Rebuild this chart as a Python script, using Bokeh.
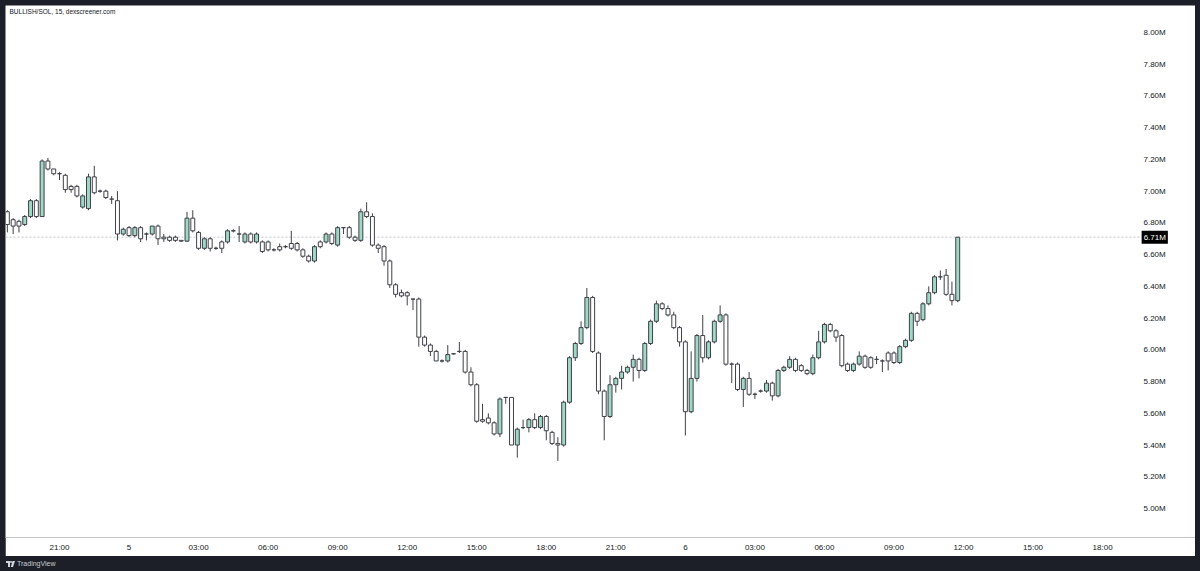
from bokeh.plotting import figure
from bokeh.models import (ColumnDataSource, Range1d, FixedTicker, Label, Div)
from bokeh.layouts import column
from bokeh.embed import file_html
from bokeh.resources import INLINE
from bokeh.core.properties import value

# ---------------- data (15-minute candles, BULLISH/SOL, values in millions) ----------------
first_slot = 75          # 15-min slot index counted from day 4 00:00 (75 -> 18:45)
opens = [6.87, 6.82, 6.81, 6.79, 6.84, 6.94, 6.84, 7.19, 7.14, 7.11, 7.10, 7.03, 7.03, 6.90, 6.89, 7.09,
         7.00, 7.00, 6.95, 6.94, 6.73, 6.77, 6.72, 6.77, 6.73, 6.73, 6.78, 6.71, 6.71, 6.71, 6.69, 6.685,
         6.83, 6.74, 6.64, 6.70, 6.64, 6.68, 6.68, 6.75, 6.73, 6.68, 6.73, 6.68, 6.68, 6.68, 6.63, 6.65,
         6.65, 6.67, 6.67, 6.63, 6.59, 6.56, 6.68, 6.68, 6.73, 6.66, 6.77, 6.77, 6.71, 6.69, 6.87, 6.84,
         6.66, 6.65, 6.56, 6.41, 6.36, 6.36, 6.32, 6.32, 6.08, 6.03, 5.99, 5.93, 5.93, 5.975, 5.99, 5.99,
         5.86, 5.78, 5.56, 5.57, 5.54, 5.47, 5.70, 5.70, 5.40, 5.51, 5.51, 5.56, 5.51, 5.58, 5.48, 5.41,
         5.40, 5.67, 5.95, 6.04, 6.14, 6.33, 5.98, 5.74, 5.58, 5.78, 5.82, 5.86, 5.89, 5.94, 5.87, 6.04,
         6.18, 6.29, 6.26, 6.22, 6.14, 6.05, 5.61, 5.82, 6.09, 5.95, 6.05, 6.18, 6.22, 5.91, 5.91, 5.75,
         5.82, 5.72, 5.74, 5.74, 5.79, 5.71, 5.87, 5.89, 5.94, 5.90, 5.87, 5.85, 5.95, 6.05, 6.16, 6.12,
         6.09, 5.91, 5.87, 5.91, 5.96, 5.95, 5.94, 5.93, 5.98, 5.98, 5.92, 6.02, 6.06, 6.23, 6.19, 6.29,
         6.36, 6.46, 6.47, 6.35, 6.31]
highs = [6.88, 6.83, 6.82, 6.85, 6.95, 6.95, 7.20, 7.21, 7.14, 7.12, 7.11, 7.04, 7.04, 6.98, 7.11, 7.16,
         7.01, 7.01, 6.97, 7.00, 6.77, 6.78, 6.78, 6.78, 6.74, 6.78, 6.79, 6.73, 6.72, 6.72, 6.69, 6.87,
         6.88, 6.75, 6.71, 6.71, 6.65, 6.69, 6.76, 6.76, 6.78, 6.74, 6.74, 6.74, 6.69, 6.69, 6.64, 6.67,
         6.66, 6.75, 6.68, 6.64, 6.60, 6.66, 6.69, 6.74, 6.74, 6.78, 6.77, 6.78, 6.72, 6.89, 6.93, 6.86,
         6.67, 6.66, 6.57, 6.42, 6.38, 6.37, 6.32, 6.33, 6.09, 6.04, 6.00, 5.94, 6.03, 5.98, 6.05, 6.00,
         5.89, 5.79, 5.66, 5.60, 5.55, 5.70, 5.70, 5.70, 5.51, 5.56, 5.57, 5.60, 5.59, 5.59, 5.49, 5.45,
         5.68, 5.96, 6.05, 6.18, 6.39, 6.34, 5.99, 5.75, 5.84, 5.83, 5.90, 5.90, 5.97, 5.95, 6.05, 6.19,
         6.31, 6.30, 6.28, 6.24, 6.15, 6.06, 5.99, 6.10, 6.22, 6.06, 6.19, 6.28, 6.23, 5.92, 5.92, 5.83,
         5.86, 5.73, 5.75, 5.81, 5.80, 5.88, 5.90, 5.96, 5.95, 5.91, 5.88, 5.97, 6.12, 6.17, 6.17, 6.13,
         6.10, 5.92, 5.92, 5.99, 5.97, 5.96, 5.96, 5.94, 5.99, 5.99, 6.03, 6.07, 6.24, 6.24, 6.30, 6.40,
         6.47, 6.50, 6.51, 6.43, 6.71]
lows = [6.74, 6.73, 6.74, 6.78, 6.83, 6.83, 6.84, 7.13, 7.10, 7.07, 6.99, 6.99, 6.96, 6.89, 6.88, 6.98,
        6.99, 6.95, 6.92, 6.69, 6.72, 6.71, 6.71, 6.68, 6.69, 6.72, 6.66, 6.68, 6.68, 6.68, 6.68, 6.68,
        6.74, 6.63, 6.63, 6.62, 6.63, 6.61, 6.67, 6.74, 6.68, 6.67, 6.67, 6.67, 6.61, 6.62, 6.62, 6.62,
        6.64, 6.63, 6.62, 6.58, 6.55, 6.55, 6.64, 6.67, 6.66, 6.65, 6.73, 6.70, 6.68, 6.68, 6.83, 6.65,
        6.61, 6.53, 6.39, 6.33, 6.33, 6.28, 6.25, 6.02, 6.02, 5.96, 5.93, 5.92, 5.92, 5.97, 5.98, 5.85,
        5.77, 5.54, 5.54, 5.53, 5.46, 5.45, 5.66, 5.40, 5.32, 5.50, 5.48, 5.50, 5.50, 5.43, 5.40, 5.30,
        5.39, 5.66, 5.93, 6.03, 6.13, 5.98, 5.72, 5.43, 5.57, 5.73, 5.75, 5.85, 5.80, 5.82, 5.86, 6.03,
        6.17, 6.25, 6.21, 6.13, 6.02, 5.46, 5.60, 5.80, 5.92, 5.94, 6.04, 6.17, 5.90, 5.79, 5.74, 5.64,
        5.71, 5.69, 5.73, 5.73, 5.68, 5.70, 5.86, 5.88, 5.86, 5.86, 5.84, 5.84, 5.94, 6.04, 6.11, 6.05,
        5.89, 5.86, 5.86, 5.90, 5.88, 5.88, 5.91, 5.86, 5.87, 5.91, 5.91, 6.01, 6.05, 6.15, 6.18, 6.28,
        6.35, 6.44, 6.34, 6.28, 6.30]
closes = [6.79, 6.78, 6.78, 6.84, 6.94, 6.84, 7.19, 7.14, 7.11, 7.11, 7.01, 7.01, 6.97, 6.97, 7.09, 6.99,
          7.00, 6.96, 6.95, 6.73, 6.76, 6.72, 6.77, 6.70, 6.73, 6.78, 6.70, 6.70, 6.69, 6.69, 6.685, 6.83,
          6.75, 6.64, 6.70, 6.64, 6.64, 6.64, 6.75, 6.75, 6.73, 6.73, 6.68, 6.73, 6.62, 6.63, 6.63, 6.63,
          6.65, 6.64, 6.63, 6.59, 6.56, 6.65, 6.65, 6.73, 6.67, 6.77, 6.77, 6.71, 6.69, 6.87, 6.84, 6.66,
          6.64, 6.56, 6.41, 6.35, 6.34, 6.34, 6.32, 6.08, 6.03, 5.99, 5.93, 5.93, 5.97, 5.975, 5.99, 5.86,
          5.78, 5.55, 5.55, 5.54, 5.47, 5.69, 5.70, 5.40, 5.50, 5.51, 5.56, 5.51, 5.58, 5.49, 5.41, 5.40,
          5.67, 5.95, 6.04, 6.14, 6.33, 5.99, 5.74, 5.58, 5.78, 5.82, 5.86, 5.89, 5.94, 5.87, 6.04, 6.18,
          6.29, 6.26, 6.22, 6.14, 6.05, 5.61, 5.82, 6.09, 5.95, 6.05, 6.18, 6.22, 5.91, 5.91, 5.75, 5.82,
          5.72, 5.72, 5.74, 5.79, 5.71, 5.87, 5.89, 5.94, 5.87, 5.87, 5.85, 5.95, 6.05, 6.16, 6.12, 6.08,
          5.90, 5.87, 5.91, 5.96, 5.89, 5.89, 5.94, 5.93, 5.93, 5.92, 6.02, 6.06, 6.23, 6.18, 6.29, 6.36,
          6.46, 6.46, 6.35, 6.31, 6.71]
last_price = 6.71
price_ticks = [5.0, 5.2, 5.4, 5.6, 5.8, 6.0, 6.2, 6.4, 6.6, 6.8, 7.0, 7.2, 7.4, 7.6, 7.8, 8.0]
price_labels = ["5.00M", "5.20M", "5.40M", "5.60M", "5.80M", "6.00M", "6.20M", "6.40M",
                "6.60M", "6.80M", "7.00M", "7.20M", "7.40M", "7.60M", "7.80M", "8.00M"]
time_ticks = [21, 24, 27, 30, 33, 36, 39, 42, 45, 48, 51, 54, 57, 60, 63, 66]   # hours from day 4 00:00
time_labels = ["21:00", "5", "03:00", "06:00", "09:00", "12:00", "15:00", "18:00",
               "21:00", "6", "03:00", "06:00", "09:00", "12:00", "15:00", "18:00"]
title_text = "BULLISH/SOL, 15, dexscreener.com"

# ---------------- build ----------------
n = len(opens)
times = [(first_slot + i) * 0.25 for i in range(n)]
up = [c > o for o, c in zip(opens, closes)]
UP_FILL = "#9fd8c5"
EDGE = "#3f4147"
DARK = "#1c1f27"
src = ColumnDataSource(dict(
    t=times,
    top=[max(o, c) for o, c in zip(opens, closes)],
    bottom=[min(o, c) for o, c in zip(opens, closes)],
    high=highs, low=lows,
    fill=[UP_FILL if u else "#ffffff" for u in up],
))

FONT = "Liberation Sans"
TXT = "#131722"

X0, X1 = 18.670, 70.008          # visible time span (hours)
X_SCALE = 67.764                 # where the price-scale labels start (hours)

p = figure(width=1190, height=551, output_backend="svg", toolbar_location=None,
           x_range=Range1d(X0, X1), y_range=Range1d(4.8172, 8.1702),
           min_border_left=0, min_border_top=0, min_border_right=0, min_border_bottom=19,
           margin=(5, 5, 0, 5))
p.yaxis.visible = False
p.background_fill_color = "#ffffff"
p.border_fill_color = "#ffffff"
p.outline_line_color = None
p.xgrid.visible = False
p.ygrid.visible = False

# current price line (dotted) up to the price scale
p.segment(x0=[X0], y0=[last_price], x1=[X_SCALE - 0.12], y1=[last_price],
          line_color="#c3c6cc", line_width=1, line_dash="2 2")

# candles
p.segment(x0="t", y0="low", x1="t", y1="high", source=src, line_color=EDGE, line_width=1)
p.vbar(x="t", width=0.17, top="top", bottom="bottom", source=src,
       fill_color="fill", line_color=EDGE, line_width=1)

# price scale labels (right side)
p.text(x=[X_SCALE] * len(price_ticks), y=price_ticks, text=price_labels,
       text_font=value(FONT), text_font_size="8px", text_color=TXT,
       text_align="left", text_baseline="middle")

# time axis
xax = p.xaxis[0]
xax.ticker = FixedTicker(ticks=time_ticks)
xax.major_label_overrides = {t: lab for t, lab in zip(time_ticks, time_labels)}
xax.axis_line_color = "#c4c6cc"
xax.axis_line_width = 1
xax.major_tick_line_color = None
xax.minor_tick_line_color = None
xax.major_tick_out = 0
xax.major_tick_in = 0
xax.major_label_standoff = 5
xax.major_label_text_font = FONT
xax.major_label_text_font_size = "8px"
xax.major_label_text_color = TXT

# title (overlaid top-left, like TradingView)
p.add_layout(Label(x=18.843, y=8.132, text=title_text, text_font=FONT,
                   text_font_size="6.5px", text_color=TXT, text_baseline="middle"))

# last price tag on the price scale
p.add_layout(Label(x=X_SCALE - 0.08, y=last_price, text=f"{last_price:.2f}M",
                   text_font=FONT, text_font_size="8px", text_color="#ffffff",
                   text_baseline="middle", text_align="left",
                   background_fill_color="#000000", padding=2))

logo = ('<svg width="9" height="6" style="vertical-align:middle;margin-right:2px">'
        '<path d="M0 0H4V6H2V2H0Z" fill="#d1d4dc"/><circle cx="5" cy="1" r="1" fill="#d1d4dc"/>'
        '<path d="M6.5 0H9L7 6H4.8Z" fill="#d1d4dc"/></svg>')
footer = Div(text=logo + "TradingView", width=1200, height=15, margin=0,
             styles={"background-color": DARK, "color": "#c9ccd3",
                     "font-family": "Liberation Sans", "font-size": "7px",
                     "line-height": "15px", "padding-left": "6px", "overflow": "hidden",
                     "box-sizing": "border-box"})

layout = column(p, footer, spacing=0, styles={"background-color": DARK})
open("out.html", "w").write(file_html(layout, INLINE))
